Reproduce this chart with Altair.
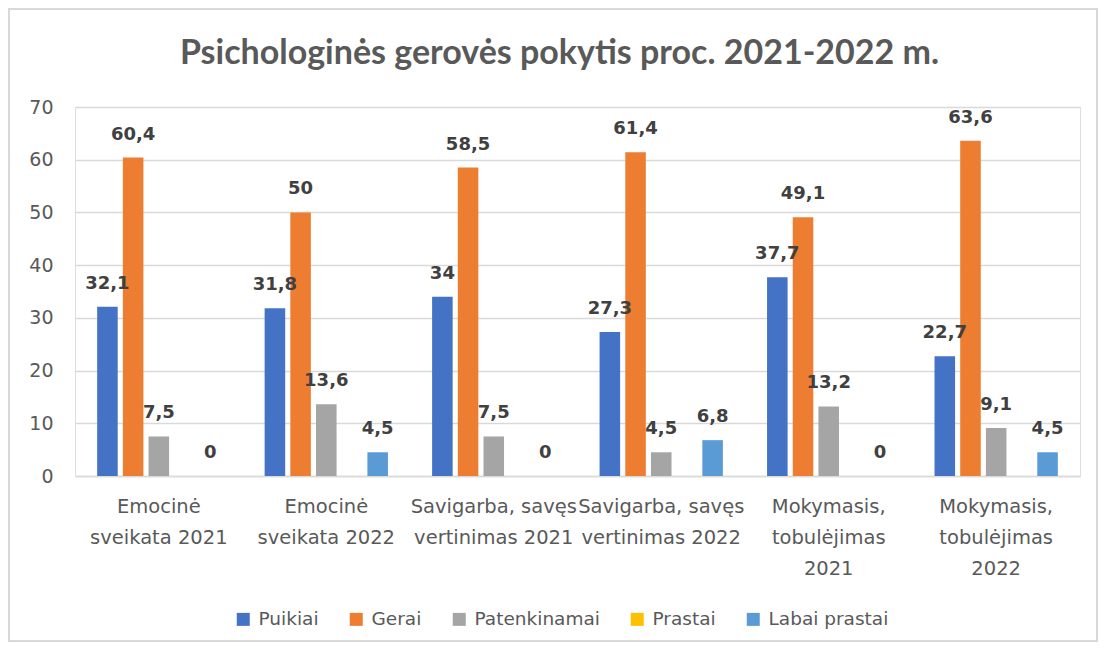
import altair as alt
import pandas as pd

categories = [
    "Emocinė\nsveikata 2021",
    "Emocinė\nsveikata 2022",
    "Savigarba, savęs\nvertinimas 2021",
    "Savigarba, savęs\nvertinimas 2022",
    "Mokymasis,\ntobulėjimas\n2021",
    "Mokymasis,\ntobulėjimas\n2022",
]
series = ["Puikiai", "Gerai", "Patenkinamai", "Prastai", "Labai prastai"]
colors = ["#4472C4", "#ED7D31", "#A5A5A5", "#FFC000", "#5B9BD5"]

puikiai = [32.1, 31.8, 34, 27.3, 37.7, 22.7]
gerai = [60.4, 50, 58.5, 61.4, 49.1, 63.6]
patenkinamai = [7.5, 13.6, 7.5, 4.5, 13.2, 9.1]
prastai = [None, None, None, None, None, None]
labai_prastai = [0, 4.5, 0, 6.8, 0, 4.5]

values = [puikiai, gerai, patenkinamai, prastai, labai_prastai]
rows = []
for s, vals in zip(series, values):
    for c, v in zip(categories, vals):
        if v is None:
            continue
        rows.append({
            "kategorija": c,
            "serija": s,
            "reiksme": v,
            "zyme": f"{v:g}".replace(".", ","),
        })
df = pd.DataFrame(rows)

FONT = "DejaVu Sans"
TITLE_FONT = "Lato"

base = alt.Chart(df).encode(
    x=alt.X(
        "kategorija:N",
        sort=categories,
        scale=alt.Scale(paddingInner=0.233, paddingOuter=0.117),
        axis=alt.Axis(
            title=None,
            labelAngle=0,
            labelExpr="split(datum.label, '\\n')",
            labelFont=FONT,
            labelFontSize=19.5,
            labelColor="#595959",
            labelLineHeight=31,
            labelPadding=21,
            ticks=False,
            domainColor="#d9d9d9",
            domainWidth=1.5,
            labelBaseline="top",
        ),
    ),
    xOffset=alt.XOffset(
        "serija:N",
        sort=series,
        scale=alt.Scale(domain=series, paddingInner=0.2, paddingOuter=0.1),
    ),
    y=alt.Y(
        "reiksme:Q",
        scale=alt.Scale(domain=[0, 70]),
        axis=alt.Axis(
            title=None,
            values=[0, 10, 20, 30, 40, 50, 60, 70],
            labelFont=FONT,
            labelFontSize=19,
            labelColor="#595959",
            labelPadding=22,
            ticks=False,
            domain=False,
            gridColor="#d9d9d9",
            gridWidth=1.5,
        ),
    ),
)

bars = base.mark_bar().encode(
    color=alt.Color(
        "serija:N",
        sort=series,
        scale=alt.Scale(domain=series, range=colors),
        legend=alt.Legend(
            title=None,
            orient="none",
            legendX=159,
            legendY=503,
            direction="horizontal",
            columns=5,
            symbolType="square",
            symbolSize=169,
            symbolStrokeWidth=0,
            labelFont=FONT,
            labelFontSize=18.5,
            labelColor="#595959",
            columnPadding=28,
            labelOffset=6,
        ),
    )
)

labels = base.mark_text(
    font=FONT,
    fontSize=18,
    fontWeight="bold",
    color="#404040",
    baseline="alphabetic",
    dy=-18,
).encode(text="zyme:N")

frame = alt.Chart(df).mark_rect(
    fill=None, stroke="#d9d9d9", strokeWidth=1.5
).encode(
    x=alt.value(-66),
    x2=alt.value(1022),
    y=alt.value(-98),
    y2=alt.value(534),
)

chart = (
    alt.layer(frame, bars, labels)
    .properties(
        width=1005,
        height=369,
        padding={"left": 67, "top": 99, "right": 19, "bottom": 168},
        autosize=alt.AutoSizeParams(type="none"),
        title=alt.TitleParams(
            "Psichologinės gerovės pokytis proc. 2021-2022 m.",
            font=TITLE_FONT,
            fontSize=34,
            fontWeight="bold",
            color="#595959",
            anchor="middle",
            dx=-18,
            dy=63,
            offset=0,
        ),
    )
    .configure_view(stroke=None)
    .configure(background="white")
)

chart.save("out.html", embed_options={"renderer": "svg", "actions": False})
